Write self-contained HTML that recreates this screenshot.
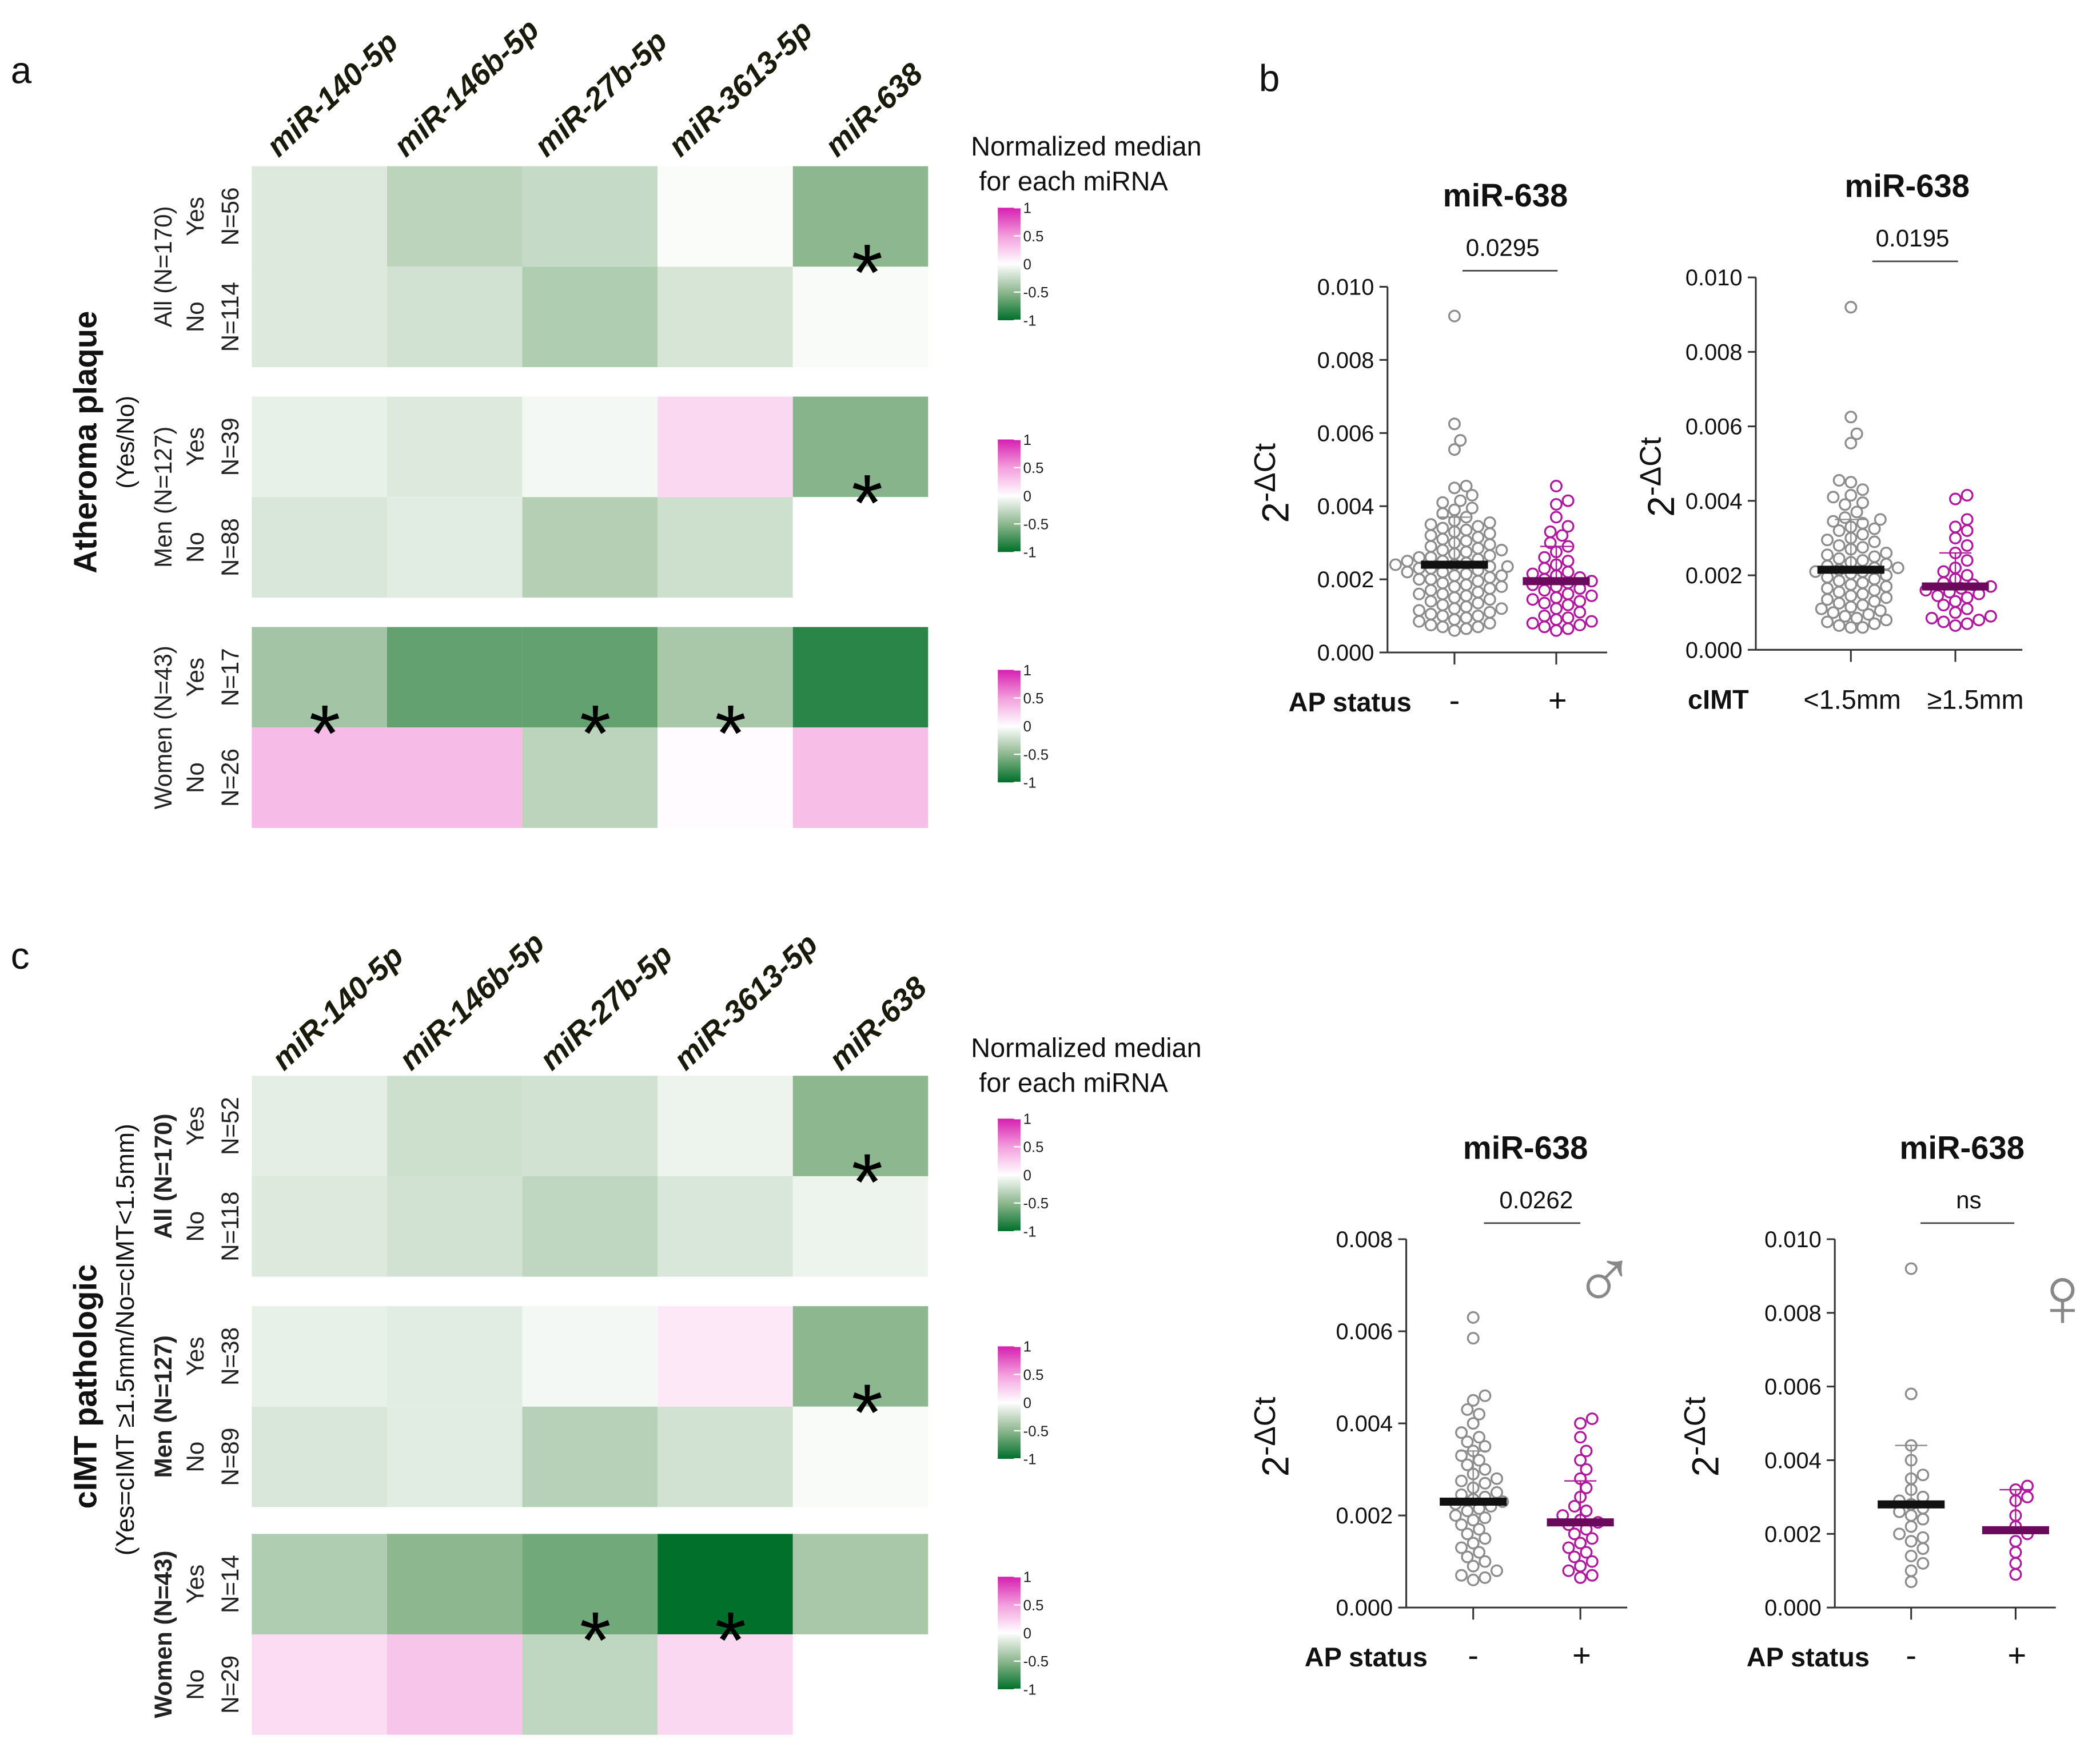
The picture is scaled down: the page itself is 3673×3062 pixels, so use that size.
<!DOCTYPE html>
<html><head><meta charset="utf-8"><style>
html,body{margin:0;padding:0;background:#fff}
svg{display:block}
text{font-family:"Liberation Sans",sans-serif}
</style></head><body>
<svg id="fig" width="3673" height="3062" viewBox="0 0 1568 1307" xmlns="http://www.w3.org/2000/svg">
<rect width="1568" height="1307" fill="#fff"/>
<g id="root"></g>
</svg>
<script>
// ---------- heatmap data ----------
const mirnas = ["miR-140-5p","miR-146b-5p","miR-27b-5p","miR-3613-5p","miR-638"];
const groupsA = ["All (N=170)","Men (N=127)","Women (N=43)"];
const nA = [["N=56","N=114"],["N=39","N=88"],["N=17","N=26"]];
const heatA_all = [[-0.15,-0.3,-0.25,-0.02,-0.5],[-0.15,-0.2,-0.35,-0.18,-0.03]];
const heatA_men = [[-0.1,-0.15,-0.05,0.2,-0.52],[-0.17,-0.13,-0.33,-0.22,0.0]];
const heatA_women = [[-0.4,-0.65,-0.65,-0.38,-0.85],[0.35,0.35,-0.3,0.02,0.33]];
const starsA = [[[0,4]],[[0,4]],[[0,0],[0,2],[0,3]]];
const nC = [["N=52","N=118"],["N=38","N=89"],["N=14","N=29"]];
const heatC_all = [[-0.12,-0.22,-0.2,-0.08,-0.5],[-0.15,-0.2,-0.28,-0.17,-0.08]];
const heatC_men = [[-0.1,-0.13,-0.05,0.12,-0.5],[-0.17,-0.13,-0.32,-0.2,-0.03]];
const heatC_women = [[-0.35,-0.5,-0.6,-1.0,-0.38],[0.18,0.3,-0.28,0.2,0.0]];
const starsC = [[[0,4]],[[0,4]],[[0,2],[0,3]]];
const cbTicks = ["1","0.5","0","-0.5","-1"];

// ---------- scatter data (units of 0.001) ----------
const g1 = [9.2,6.25,5.8,5.55,4.55,4.5,4.3,4.15,4.1,3.95,3.9,3.8,3.7,3.6,3.55,3.5,3.45,3.4,3.35,3.3,3.25,3.2,3.15,3.1,3.05,3.0,2.95,2.9,2.85,2.8,2.8,2.75,2.7,2.65,2.6,2.6,2.55,2.5,2.5,2.45,2.4,2.4,2.35,2.35,2.3,2.3,2.25,2.2,2.2,2.15,2.1,2.1,2.05,2.0,2.0,1.95,1.9,1.85,1.8,1.8,1.75,1.7,1.65,1.6,1.6,1.55,1.5,1.45,1.4,1.35,1.3,1.25,1.2,1.2,1.15,1.1,1.05,1.0,1.0,0.95,0.9,0.85,0.8,0.75,0.7,0.7,0.65,0.6];
const p1 = [4.55,4.15,4.05,3.7,3.45,3.3,3.2,3.0,2.9,2.75,2.6,2.5,2.4,2.3,2.2,2.15,2.1,2.05,2.0,1.95,1.9,1.85,1.8,1.75,1.7,1.6,1.55,1.5,1.45,1.4,1.35,1.3,1.2,1.1,1.0,0.95,0.9,0.85,0.8,0.75,0.7,0.65,0.6];
const g2 = [9.2,6.25,5.8,5.55,4.55,4.5,4.3,4.15,4.1,3.95,3.9,3.7,3.55,3.5,3.45,3.4,3.3,3.25,3.2,3.1,3.0,2.95,2.9,2.8,2.75,2.7,2.6,2.55,2.5,2.45,2.4,2.35,2.3,2.25,2.2,2.2,2.15,2.1,2.1,2.05,2.0,1.95,1.9,1.85,1.8,1.75,1.7,1.65,1.6,1.55,1.5,1.45,1.4,1.35,1.3,1.25,1.2,1.15,1.1,1.05,1.0,0.95,0.9,0.85,0.8,0.75,0.7,0.65,0.6,0.6];
const p2 = [4.15,4.05,3.5,3.3,3.2,3.0,2.8,2.6,2.4,2.2,2.1,2.0,1.9,1.8,1.75,1.7,1.65,1.6,1.55,1.5,1.45,1.4,1.3,1.2,1.1,1.0,0.9,0.85,0.8,0.75,0.7,0.65];
const g3 = [6.3,5.85,4.6,4.5,4.3,4.2,4.0,3.8,3.7,3.6,3.5,3.4,3.3,3.2,3.1,3.0,2.9,2.8,2.75,2.7,2.6,2.5,2.45,2.4,2.35,2.3,2.25,2.2,2.15,2.1,2.0,1.95,1.9,1.8,1.7,1.6,1.5,1.4,1.3,1.2,1.1,1.0,0.9,0.8,0.7,0.65,0.6];
const p3 = [4.1,4.0,3.7,3.4,3.2,3.0,2.8,2.6,2.4,2.2,2.1,2.0,1.9,1.85,1.8,1.7,1.6,1.5,1.4,1.3,1.2,1.1,1.0,0.9,0.8,0.7,0.65];
const g4 = [9.2,5.8,4.4,4.0,3.6,3.5,3.2,3.0,2.9,2.8,2.7,2.6,2.5,2.4,2.2,2.0,1.9,1.8,1.6,1.4,1.2,1.0,0.7];
const p4 = [3.3,3.2,3.0,2.9,2.5,2.2,2.0,1.8,1.5,1.2,0.9];
const medians1 = [2.4,1.95], sdTop1 = [3.7,2.9];
const medians2 = [2.15,1.7], sdTop2 = [3.5,2.6];
const medians3 = [2.3,1.85], sdTop3 = [3.4,2.75];
const medians4 = [2.8,2.1], sdTop4 = [4.4,3.2];
const yTicks8 = [0,2,4,6,8];
const yTicks10 = [0,2,4,6,8,10];

const NS="http://www.w3.org/2000/svg";
const root=document.getElementById('root');
function el(tag,attrs,parent,txt){const e=document.createElementNS(NS,tag);for(const k in attrs)e.setAttribute(k,attrs[k]);if(txt!==undefined)e.textContent=txt;(parent||root).appendChild(e);return e;}

function lerp(a,b,t){return a.map((v,i)=>Math.round(v+(b[i]-v)*t));}
function colorOf(v){
  v=Math.max(-1,Math.min(1,v));
  let c;
  if(v>=0){c=v<=0.5?lerp([255,255,255],[243,158,220],v/0.5):lerp([243,158,220],[214,31,176],(v-0.5)/0.5);}
  else{const a=-v;c=a<=0.5?lerp([255,255,255],[141,183,142],a/0.5):lerp([141,183,142],[0,112,42],(a-0.5)/0.5);}
  return `rgb(${c[0]},${c[1]},${c[2]})`;
}

function heatPanel(blocks,nLabels,stars,yTops,groupBold,colLabelY,colLabelX,cbY,prefix){
  const x0=188,cw=101,rh=75;
  const g=el('g',{});
  
  
  mirnas.forEach((m,i)=>{
    const t=el('text',{x:colLabelX[i],y:colLabelY,transform:`rotate(-43 ${colLabelX[i]} ${colLabelY})`,'font-size':23,'font-weight':'bold','font-style':'italic',fill:'#1a1a0a'},g,m);
    
    
  });
  blocks.forEach((blk,b)=>{
    const yt=yTops[b];
    blk.forEach((row,r)=>{
      row.forEach((v,c)=>{
        const rc=el('rect',{x:x0+c*cw,y:yt+r*rh,width:cw,height:rh,fill:colorOf(v)},g);
        
        
      });
      const cy=yt+r*rh+rh/2;
      const t1=el('text',{x:152,y:cy,transform:`rotate(-90 152 ${cy})`,'text-anchor':'middle','font-size':18,fill:'#222'},g,r===0?'Yes':'No');
      
      
      const t2=el('text',{x:178,y:cy,transform:`rotate(-90 178 ${cy})`,'text-anchor':'middle','font-size':18,fill:'#222'},g,nLabels[b][r]);
      
      
    });
    const gy=yt+rh;
    const gl=el('text',{x:128,y:gy,transform:`rotate(-90 128 ${gy})`,'text-anchor':'middle','font-size':18,'font-weight':groupBold?'bold':'normal',fill:'#222'},g,groupsA[b]);
    
    
    stars[b].forEach(([r,c])=>{
      const s=el('text',{x:x0+c*cw+cw/2+(c===4?5:4),y:yt+rh*(r+1)+25,'text-anchor':'middle','font-size':60,fill:'#000'},g,'*');
      
      
    });
    const cby=cbY[b];
    const gid=prefix+'grad'+b;
    const defs=el('defs',{},g);
    const lg=el('linearGradient',{id:gid,x1:0,y1:0,x2:0,y2:1},defs);
    [1,0.5,0,-0.5,-1].forEach((v,i)=>el('stop',{offset:(i*25)+'%','stop-color':colorOf(v)},lg));
    const cb=el('rect',{x:745,y:cby,width:17,height:84,fill:`url(#${gid})`},g);
    
    
    cbTicks.forEach((tk,i)=>{
      const ty=cby+i*21;
      el('line',{x1:757,x2:762,y1:ty,y2:ty,stroke:'#fff','stroke-width':1},g);
      const tt=el('text',{x:764,y:ty+4,'font-size':11,fill:'#222'},g,tk);
      
      
    });
  });
}

heatPanel([heatA_all,heatA_men,heatA_women],nA,starsA,[124,296,468],false,118,[208,303,408,508,625],[155,328,500],'ap');
heatPanel([heatC_all,heatC_men,heatC_women],nC,starsC,[803,975,1145],true,800,[212,307,412,512,628],[835,1005,1177],'cimt');

function txt(x,y,s,opts,name){const o=Object.assign({x:x,y:y,fill:'#111'},opts);const t=el('text',o,root,s);return t;}
txt(8,62,'a',{'font-size':28},'panel-label-a');
txt(940,68,'b',{'font-size':28},'panel-label-b');
txt(8,723,'c',{'font-size':28},'panel-label-c');
txt(725,116,'Normalized median',{'font-size':20},'legend-title');
txt(731,142,'for each miRNA',{'font-size':20},'legend-title-2');
txt(725,789,'Normalized median',{'font-size':20},'legend-title-c');
txt(731,815,'for each miRNA',{'font-size':20},'legend-title-c-2');
txt(72,330,'Atheroma plaque',{'font-size':24,'font-weight':'bold','text-anchor':'middle',transform:'rotate(-90 72 330)'},'ap-axis-title');
txt(100,330,'(Yes/No)',{'font-size':18,'text-anchor':'middle',transform:'rotate(-90 100 330)'},'ap-axis-subtitle');
txt(72,1035,'cIMT pathologic',{'font-size':24,'font-weight':'bold','text-anchor':'middle',transform:'rotate(-90 72 1035)'},'cimt-axis-title');
txt(100,1000,'(Yes=cIMT ≥1.5mm/No=cIMT<1.5mm)',{'font-size':19,'text-anchor':'middle',transform:'rotate(-90 100 1000)'},'cimt-axis-subtitle');

function scatter(cfg){
  const {ax,yTop,yBot,maxV,ticks,xEnd,cats,groups,med,sd,title,tx,pval,px,pl,xlab,xlabX,catLabels,catLabelX,ylabX,name}=cfg;
  const g=el('g',{});
  
  
  const y=v=>yBot-(v/maxV)*(yBot-yTop);
  el('line',{x1:ax,x2:ax,y1:yTop,y2:yBot,stroke:'#333','stroke-width':1.3},g);
  el('line',{x1:ax,x2:xEnd,y1:yBot,y2:yBot,stroke:'#333','stroke-width':1.3},g);
  ticks.forEach(t=>{
    el('line',{x1:ax-6,x2:ax,y1:y(t),y2:y(t),stroke:'#333','stroke-width':1.3},g);
    const tl=el('text',{x:ax-10,y:y(t)+6,'text-anchor':'end','font-size':17,fill:'#111'},g,(t/1000).toFixed(3));
    
    
  });
  cats.forEach(cx=>el('line',{x1:cx,x2:cx,y1:yBot,y2:yBot+9,stroke:'#333','stroke-width':1.3},g));
  const colors=['#8c8c8c','#b0189e'],medCol=['#111','#6b0a5c'];
  groups.forEach((vals,gi)=>{
    const cx=cats[gi],r=4,placed=[];
    const sorted=vals.slice().sort((a,b)=>a-b);
    sorted.forEach(v=>{
      const py=y(v);let off=0;
      for(let k=0;k<60;k++){
        const o=(k%2?1:-1)*Math.ceil(k/2)*r*1.1;
        if(placed.every(p=>Math.hypot(p[0]-(cx+o),p[1]-py)>=2*r*0.98)){off=o;break;}
      }
      placed.push([cx+off,py]);
      const c=el('circle',{cx:cx+off,cy:py,r:r,fill:'none',stroke:colors[gi],'stroke-width':1.4},g);
      
      
    });
    el('line',{x1:cx,x2:cx,y1:y(med[gi]),y2:y(sd[gi]),stroke:colors[gi],'stroke-width':1},g);
    el('line',{x1:cx-12,x2:cx+12,y1:y(sd[gi]),y2:y(sd[gi]),stroke:colors[gi],'stroke-width':1},g);
    const m=el('rect',{x:cx-25,y:y(med[gi])-3,width:50,height:6,fill:medCol[gi]},g);
    
    
  });
  const tt=el('text',{x:tx,y:yTop-60,'text-anchor':'middle','font-size':24,'font-weight':'bold',fill:'#111'},g,title);
  
  
  const pv=el('text',{x:px,y:yTop-23,'text-anchor':'middle','font-size':18,fill:'#111'},g,pval);
  
  
  el('line',{x1:pl[0],x2:pl[1],y1:yTop-12,y2:yTop-12,stroke:'#444','stroke-width':1.2},g);
  const yc=(yTop+yBot)/2+10;
  const yl=el('text',{x:ylabX,y:yc,transform:`rotate(-90 ${ylabX} ${yc})`,'text-anchor':'middle','font-size':28,fill:'#111'},g);
  
  
  el('tspan',{},yl,'2');
  el('tspan',{dy:-10,'font-size':22},yl,'-ΔCt');
  const xl=el('text',{x:xlabX,y:yBot+44,'text-anchor':'middle','font-size':20,'font-weight':'bold',fill:'#111'},g,xlab);
  
  
  catLabels.forEach((s,i)=>{
    const cl=el('text',{x:catLabelX[i],y:yBot+44,'text-anchor':'middle','font-size':s.length>1?20:24,fill:'#111'},g,s);
    
    
  });
}
scatter({name:'scatter-ap-all',ax:1036,yTop:214,yBot:487,maxV:10,ticks:yTicks10,xEnd:1200,cats:[1086,1162],groups:[g1,p1],med:medians1,sd:sdTop1,title:'miR-638',tx:1124,pval:'0.0295',px:1122,pl:[1092,1163],xlab:'AP status',xlabX:1008,catLabels:['-','+'],catLabelX:[1086,1163],ylabX:962});
scatter({name:'scatter-cimt-all',ax:1311,yTop:207,yBot:485,maxV:10,ticks:yTicks10,xEnd:1510,cats:[1382,1460],groups:[g2,p2],med:medians2,sd:sdTop2,title:'miR-638',tx:1424,pval:'0.0195',px:1428,pl:[1398,1462],xlab:'cIMT',xlabX:1283,catLabels:['<1.5mm','≥1.5mm'],catLabelX:[1383,1475],ylabX:1250});
scatter({name:'scatter-ap-men',ax:1050,yTop:925,yBot:1200,maxV:8,ticks:yTicks8,xEnd:1215,cats:[1100,1180],groups:[g3,p3],med:medians3,sd:sdTop3,title:'miR-638',tx:1139,pval:'0.0262',px:1147,pl:[1108,1180],xlab:'AP status',xlabX:1020,catLabels:['-','+'],catLabelX:[1100,1181],ylabX:962});
scatter({name:'scatter-ap-women',ax:1370,yTop:925,yBot:1200,maxV:10,ticks:yTicks10,xEnd:1535,cats:[1427,1505],groups:[g4,p4],med:medians4,sd:sdTop4,title:'miR-638',tx:1465,pval:'ns',px:1470,pl:[1434,1504],xlab:'AP status',xlabX:1350,catLabels:['-','+'],catLabelX:[1427,1506],ylabX:1283});
txt(1198,977,'♂',{'font-size':64,'text-anchor':'middle',fill:'#888'},'male-symbol');
txt(1540,990,'♀',{'font-size':64,'text-anchor':'middle',fill:'#888'},'female-symbol');
</script>
</body></html>
